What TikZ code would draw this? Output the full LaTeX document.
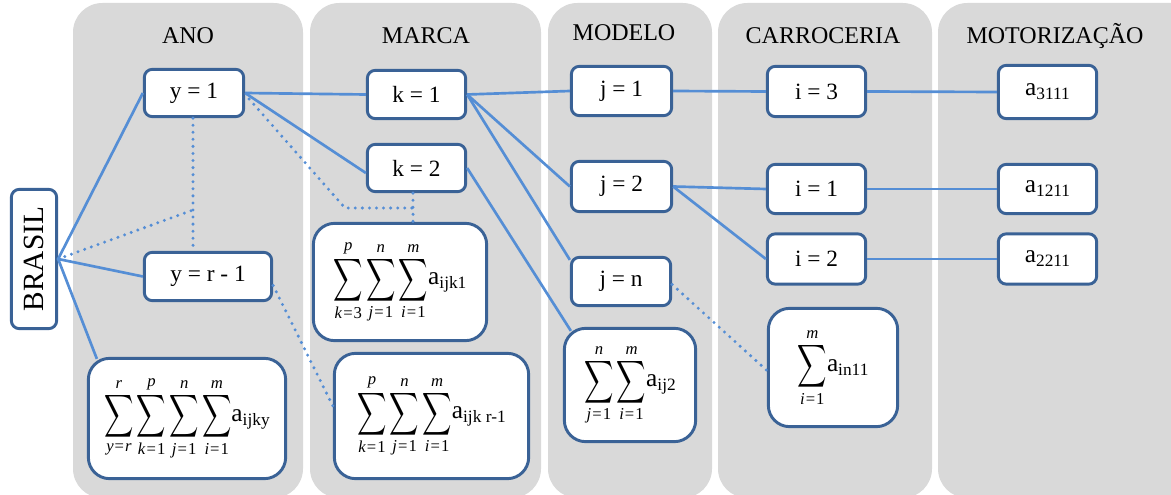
\documentclass[tikz,border=0pt]{standalone}
\usepackage{amsmath}
\usepackage{exscale}
\usepackage{fontspec}
\setmainfont{Liberation Serif}
\usetikzlibrary{calc}
\definecolor{colbg}{HTML}{D9D9D9}
\definecolor{nodeblue}{HTML}{3A6296}
\definecolor{linkblue}{HTML}{558ED5}
\newcommand\mysum{\mathop{\vcenter{\hbox{\scalebox{1.06}[1.55]{$\displaystyle\sum$}}}}\limits}
\newcommand\lmt[1]{\text{\fontsize{12.5}{13}\selectfont #1}}
\newcommand\msum[3]{\mysum_{\lmt{\textit{#1}\kern0.8pt=\kern0.8pt#2}}^{\lmt{\textit{#3}}}}
\newcommand\suba[1]{{\fontsize{19}{21}\selectfont a}{\fontsize{13}{15}\selectfont\raisebox{-3pt}{#1}}}
\begin{document}
\begin{tikzpicture}[x=0.75pt,y=-0.75pt,
  box/.style={draw=nodeblue, line width=2.2pt, fill=white, rounded corners=6pt, inner sep=0pt, align=center, font=\fontsize{17.5}{20}\selectfont},
  sumbox/.style={box, rounded corners=16pt, font=\fontsize{14}{16}\selectfont},
  sz/.style 2 args={minimum width=#1*0.75pt-2pt, minimum height=#2*0.75pt-2pt},
  title/.style={font=\fontsize{18}{21}\selectfont, inner sep=0pt},
  conn/.style={draw=linkblue, line width=2pt},
  dotconn/.style={draw=linkblue, line width=2.5pt, line cap=round, dash pattern=on 0pt off 5.3pt},
  column/.style={fill=colbg, rounded corners=22pt}]
\useasboundingbox (0,0) rectangle (1171,495);
\clip (0,0) rectangle (1171,495);
% columns
\fill[column] (73,3) rectangle (303,498);
\fill[column] (310,3) rectangle (541,498);
\fill[column] (548,3) rectangle (712,498);
\fill[column] (718,3) rectangle (932,498);
\fill[column] (938,3) rectangle (1210,498);
% titles
\node[title] (tano) at (188,36) {ANO};
\node[title] (tmarca) at (426,36) {MARCA};
\node[title] (tmodelo) at (624,33) {MODELO};
\node[title] (tcarro) at (823,36) {CARROCERIA};
\node[title] (tmotor) at (1055,36) {MOTORIZAÇÃO};
% nodes
\node[box, sz={48}{142}, font=\fontsize{22}{24}\selectfont] (brasil) at (34,259) {\rotatebox{90}{BRASIL}};
\node[box, sz={102}{50}] (y1) at (194,93) {y = 1};
\node[box, sz={130}{51}] (yr) at (208,276.5) {y = r - 1};
\node[sumbox, sz={200}{123}] (s4) at (187,418.5) {\(\msum{y}{\textit{r}}{r}\msum{k}{1}{p}\msum{j}{1}{n}\msum{i}{1}{m}\)\suba{ijky}};
\node[box, sz={101}{51}] (k1) at (416.5,94.5) {k = 1};
\node[box, sz={101}{50}] (k2) at (416.5,168) {k = 2};
\node[sumbox, sz={176}{120}] (s3a) at (400,282) {\(\msum{k}{3}{p}\msum{j}{1}{n}\msum{i}{1}{m}\)\suba{ijk1}};
\node[sumbox, sz={197}{128}] (s3b) at (431.5,416) {\(\msum{k}{1}{p}\msum{j}{1}{n}\msum{i}{1}{m}\)\suba{ijk r-1}};
\node[box, sz={103}{52}] (j1) at (621.5,91) {j = 1};
\node[box, sz={103}{53}] (j2) at (621.5,186.5) {j = 2};
\node[box, sz={102}{51}] (jn) at (621,281.5) {j = n};
\node[sumbox, sz={134}{116}] (s2) at (630,385) {\(\msum{j}{1}{n}\msum{i}{1}{m}\)\suba{ij2}};
\node[box, sz={101}{53}] (i3) at (816.5,91.5) {i = 3};
\node[box, sz={101}{52}] (i1) at (816.5,189) {i = 1};
\node[box, sz={101}{53}] (i2) at (816.5,259) {i = 2};
\node[sumbox, sz={132}{121}] (s1) at (833,367.5) {\(\msum{i}{1}{m}\)\suba{in11}};
\node[box, sz={101}{56}] (a3) at (1047.5,92) {\suba{3111}};
\node[box, sz={101}{52}] (a1) at (1047.5,189) {\suba{1211}};
\node[box, sz={101}{53}] (a2) at (1047.5,259) {\suba{2211}};
\coordinate (mid) at (193,210);
\coordinate (bend) at (345,208);
\coordinate (d1) at (413,208);
% connectors
\draw[conn] (brasil.east) -- (y1.west);
\draw[conn] (brasil.east) -- (yr.west);
\draw[conn] (brasil.east) -- ($(s4.north west)+(10,2)$);
\draw[dotconn] (brasil.east) -- (mid);
\draw[dotconn] (y1.south -| mid) -- (yr.north -| mid);
\draw[conn] (y1.east) -- (k1.west);
\draw[conn] (y1.east) -- ($(k2.west)+(0,5)$);
\draw[dotconn] ($(y1.east)+(4,6)$) -- (bend) -- (d1);
\draw[dotconn] (k2.south -| d1) -- (s3a.north -| d1);
\draw[dotconn] ($(yr.east)+(0,9)$) -- ($(s3b.west)+(0,-10)$);
\draw[conn] (k1.east) -- (j1.west);
\draw[conn] (k1.east) -- (j2.west);
\draw[conn] (k1.east) -- ($(jn.north west)+(0,4)$);
\draw[conn] (k2.east) -- ($(s2.north west)+(8,4)$);
\draw[conn] (j1.east) -- (i3.west);
\draw[conn] (j2.east) -- (i1.west);
\draw[conn] (j2.east) -- (i2.west);
\draw[dotconn] ($(jn.east)+(0,3)$) -- ($(s1.west)+(0,3)$);
\draw[conn] (i3.east) -- (a3.west);
\draw[conn] (i1.east) -- (a1.west);
\draw[conn] (i2.east) -- (a2.west);
\end{tikzpicture}
\end{document}
